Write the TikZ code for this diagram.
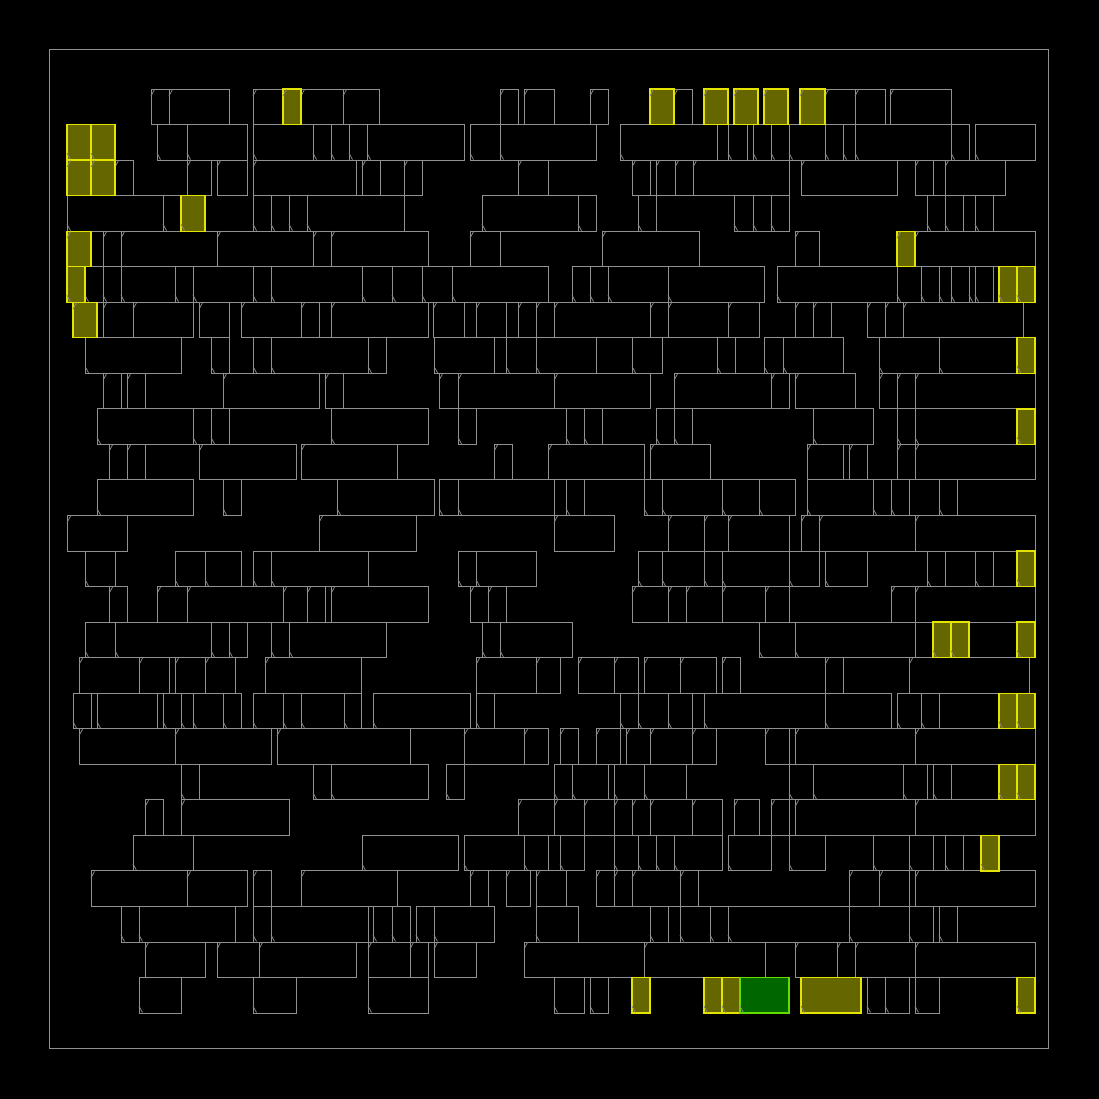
\documentclass[tikz,border=0pt]{standalone}
\definecolor{cg}{RGB}{145,145,145}
\definecolor{mkc}{RGB}{135,135,135}
\definecolor{yfill}{RGB}{102,102,0}
\definecolor{ydraw}{RGB}{228,228,0}
\definecolor{gfill}{RGB}{0,102,0}
\definecolor{gdraw}{RGB}{100,220,0}
\tikzset{
  cl/.style={draw=cg,line width=0.9pt},
  yc/.style={draw=ydraw,fill=yfill,line width=1.3pt},
  gc/.style={draw=gdraw,fill=gfill,line width=1.3pt},
  mk/.style={draw=mkc,line width=0.8pt}
}
\newcommand\mycell[4]{%
  \pgfmathsetmacro\yt{89+(#2-1)*35.54}%
  \pgfmathsetmacro\yb{\yt+35.54}%
  \draw[#1] (#3,\yt) rectangle (#4,\yb);%
  \ifodd#2\relax
    \draw[mk] (#3,\yt+7) -- (#3+3.5,\yt+0.5);%
  \else
    \draw[mk] (#3,\yb-7) -- (#3+3.5,\yb-0.5);%
  \fi}
\newcommand\G[2]{%
  \foreach \xx [count=\ii, remember=\xx as \px (initially 0)] in {#2}{%
    \ifnum\ii>1 \mycell{cl}{#1}{\px}{\xx}\fi}}
\newcommand\Y[3]{\mycell{yc}{#1}{#2}{#3}}
\newcommand\Gn[3]{\mycell{gc}{#1}{#2}{#3}}
\begin{document}
\begin{tikzpicture}[x=1pt,y=-1pt]
\useasboundingbox (0,0) rectangle (1099,1099);
\fill[black] (0,0) rectangle (1099,1099);
\node[draw=cg,line width=0.9pt,minimum width=999pt,minimum height=999pt,inner sep=0pt] (die) at (548.5,548.5) {};
% row 1
\G{1}{151,169,229}\G{1}{253,283}\G{1}{301,343,379}\G{1}{500,518}\G{1}{524,554}\G{1}{590,608}\G{1}{674,692}\G{1}{825,855,885}\G{1}{890,951}
% row 2
\G{2}{157,187,247}\G{2}{253,313,331,349,367,464}\G{2}{470,500,596}\G{2}{620,717}\G{2}{728,747}\G{2}{753,771,789,825,843,855,951,969}\G{2}{975,1035}
% row 3
\G{3}{115,133}\G{3}{187,211}\G{3}{217,247}\G{3}{253,356}\G{3}{362,380}\G{3}{404,422}\G{3}{518,548}\G{3}{632,650}\G{3}{656,675,693,789}\G{3}{801,897}\G{3}{915,933}\G{3}{945,1005}
% row 4
\G{4}{67,163,181}\G{4}{253,271,289,307,404}\G{4}{482,578,596}\G{4}{638,656}\G{4}{734,753,771,789}\G{4}{927,945,963}\G{4}{975,993}
% row 5
\G{5}{103,121,217,313,331,428}\G{5}{470,500}\G{5}{602,699}\G{5}{795,819}\G{5}{915,1035}
% row 6
\G{6}{85,103,121,175,193,253,271,362,392,422,452,548}\G{6}{572,590,608,668,764}\G{6}{777,897,921,939,951,969,975,993}
% row 7
\G{7}{103,133,193}\G{7}{199,229}\G{7}{241,301,319}\G{7}{331,428}\G{7}{433,464}\G{7}{476,506}\G{7}{518,536,554,650,668,728,759}\G{7}{795,813,831}\G{7}{867,885,903,1023}
% row 8
\G{8}{85,181}\G{8}{211,229}\G{8}{253,271,368,386}\G{8}{434,494}\G{8}{506,536,596}\G{8}{632,662}\G{8}{717,735}\G{8}{764,783,843}\G{8}{879,939,1017}
% row 9
\G{9}{103,121}\G{9}{127,145}\G{9}{223,319}\G{9}{325,343}\G{9}{439,458,554,650}\G{9}{674,771,789}\G{9}{795,855}\G{9}{879,897,915,1035}
% row 10
\G{10}{97,193,211,229}\G{10}{331,428}\G{10}{458,476}\G{10}{566,584,602}\G{10}{656,674,692}\G{10}{813,873}\G{10}{897,915,1017}
% row 11
\G{11}{109,127,145}\G{11}{199,296}\G{11}{301,397}\G{11}{494,512}\G{11}{548,644}\G{11}{650,710}\G{11}{807,843}\G{11}{849,867}\G{11}{897,915,1035}
% row 12
\G{12}{97,193}\G{12}{223,241}\G{12}{337,434}\G{12}{439,458,554}\G{12}{566,584}\G{12}{644,662,722,759,795}\G{12}{807,873,891,909}\G{12}{939,957}
% row 13
\G{13}{67,127}\G{13}{319,416}\G{13}{554,614}\G{13}{668,704,728,789}\G{13}{801,819,915,1035}
% row 14
\G{14}{85,115}\G{14}{175,205,241}\G{14}{253,271,368}\G{14}{458,476,536}\G{14}{638,662,704,722,789,819}\G{14}{825,867}\G{14}{927,945}\G{14}{975,993}
% row 15
\G{15}{109,127}\G{15}{157,187,283,307,325}\G{15}{331,428}\G{15}{470,488,506}\G{15}{632,668,686,722,765,789}\G{15}{891,915,1035}
% row 16
\G{16}{85,115,211,229,247}\G{16}{271,289,386}\G{16}{482,500,572}\G{16}{759,795,915}
% row 17
\G{17}{79,139,169}\G{17}{175,205,235}\G{17}{265,361}\G{17}{476,536,560}\G{17}{578,614,638}\G{17}{644,680,716}\G{17}{722,740}\G{17}{825,843}\G{17}{909,1029}
% row 18
\G{18}{73,91}\G{18}{97,157}\G{18}{163,181,193,223,241}\G{18}{253,283,301,344,361}\G{18}{373,470}\G{18}{476,494}\G{18}{620,638,668,692}\G{18}{704,825,891}\G{18}{897,921,939}
% row 19
\G{19}{79,175,271}\G{19}{277,410}\G{19}{464,524,548}\G{19}{560,578}\G{19}{596,620}\G{19}{626,650,692,716}\G{19}{765,789}\G{19}{795,915,1035}
% row 20
\G{20}{181,199}\G{20}{313,331,428}\G{20}{446,464}\G{20}{554,572,608}\G{20}{614,644,686}\G{20}{789,813,903,927}\G{20}{933,951}
% row 21
\G{21}{145,163}\G{21}{181,289}\G{21}{518,554,584,614,632,650,692,722}\G{21}{734,759}\G{21}{771,789}\G{21}{795,915,1035}
% row 22
\G{22}{133,193}\G{22}{362,458}\G{22}{464,524,548}\G{22}{560,584}\G{22}{614,638,656,674,722}\G{22}{728,771}\G{22}{789,825}\G{22}{873,909,933}\G{22}{945,963}
% row 23
\G{23}{91,187,247}\G{23}{253,271}\G{23}{301,397}\G{23}{470,488}\G{23}{506,530}\G{23}{536,566}\G{23}{596,614,632,680,698}\G{23}{849,879,909}\G{23}{915,1035}
% row 24
\G{24}{121,139,235}\G{24}{253,271,368}\G{24}{373,392,410}\G{24}{416,434,494}\G{24}{536,578}\G{24}{650,668}\G{24}{680,710,728,849,909,933}\G{24}{939,957}
% row 25
\G{25}{145,205}\G{25}{217,259,356}\G{25}{368,410,428}\G{25}{434,476}\G{25}{524,644,765}\G{25}{795,837,855,915,1035}
% row 26
\G{26}{139,181}\G{26}{253,296}\G{26}{368,428}\G{26}{554,584}\G{26}{590,608}\G{26}{867,885,909}\G{26}{915,939}
% highlighted cells
\Y{1}{283}{301}\Y{1}{650}{674}\Y{1}{704}{728}\Y{1}{734}{758}\Y{1}{764}{788}\Y{1}{800}{825}
\Y{2}{67}{91}\Y{2}{91}{115}
\Y{3}{67}{91}\Y{3}{91}{115}
\Y{4}{181}{205}
\Y{5}{67}{91}\Y{5}{897}{915}
\Y{6}{67}{85}\Y{6}{999}{1017}\Y{6}{1017}{1035}
\Y{7}{73}{97}
\Y{8}{1017}{1035}
\Y{10}{1017}{1035}
\Y{14}{1017}{1035}
\Y{16}{933}{951}\Y{16}{951}{969}\Y{16}{1017}{1035}
\Y{18}{999}{1017}\Y{18}{1017}{1035}
\Y{20}{999}{1017}\Y{20}{1017}{1035}
\Y{22}{981}{999}
\Y{26}{632}{650}\Y{26}{704}{722}\Y{26}{722}{740}\Y{26}{801}{861}\Y{26}{1017}{1035}
\Gn{26}{740}{789}
\end{tikzpicture}
\end{document}
